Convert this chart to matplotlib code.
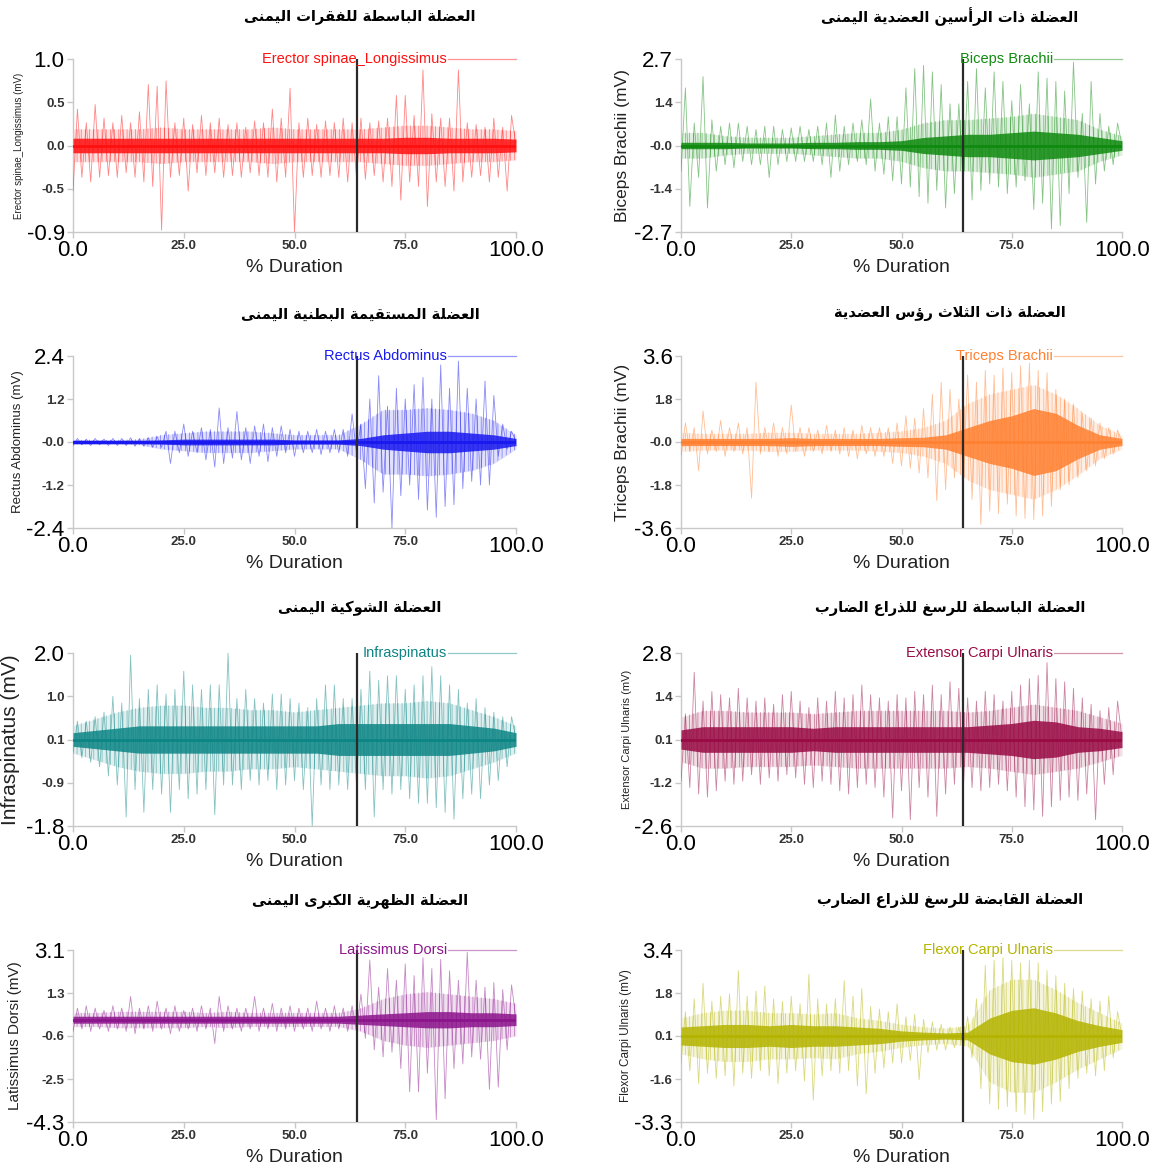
import numpy as np
import matplotlib
matplotlib.use("Agg")
import matplotlib.pyplot as plt

# ---------------- data ----------------
MUSCLES = ["Erector spinae_Longissimus", "Biceps Brachii", "Rectus Abdominus", "Triceps Brachii",
           "Infraspinatus", "Extensor Carpi Ulnaris", "Latissimus Dorsi", "Flexor Carpi Ulnaris"]
TITLES = ["العضلة الباسطة للفقرات اليمنى", "العضلة ذات الرأسين العضدية اليمنى",
          "العضلة المستقيمة البطنية اليمنى", "العضلة ذات الثلاث رؤس العضدية",
          "العضلة الشوكية اليمنى", "العضلة الباسطة للرسغ للذراع الضارب",
          "العضلة الظهرية الكبرى اليمنى", "العضلة القابضة للرسغ للذراع الضارب"]
YLABELS = ["Erector spinae_Longissimus (mV)", "Biceps Brachii (mV)", "Rectus Abdominus (mV)",
           "Triceps Brachii (mV)", "Infraspinatus (mV)", "Extensor Carpi Ulnaris (mV)",
           "Latissimus Dorsi (mV)", "Flexor Carpi Ulnaris (mV)"]
YLIMS = [(-0.9, 1.0), (-2.7, 2.7), (-2.4, 2.4), (-3.6, 3.6),
         (-1.8, 2.0), (-2.6, 2.8), (-4.3, 3.1), (-3.3, 3.4)]
YTICKLABELS = [["-0.9", "-0.5", "0.0", "0.5", "1.0"],
               ["-2.7", "-1.4", "-0.0", "1.4", "2.7"],
               ["-2.4", "-1.2", "-0.0", "1.2", "2.4"],
               ["-3.6", "-1.8", "-0.0", "1.8", "3.6"],
               ["-1.8", "-0.9", "0.1", "1.0", "2.0"],
               ["-2.6", "-1.2", "0.1", "1.4", "2.8"],
               ["-4.3", "-2.5", "-0.6", "1.3", "3.1"],
               ["-3.3", "-1.6", "0.1", "1.8", "3.4"]]
XTICKLABELS = ["0.0", "25.0", "50.0", "75.0", "100.0"]
XTICKS = [0, 25, 50, 75, 100]
BASELINES = [0.05, 0.0, 0.0, 0.0, 0.1, 0.1, 0.1, 0.05]
EVENT_X = 64.0  # % duration of the vertical marker

# positive peaks at 1,3,...,99 %  / negative peaks at 0,2,...,98 %
ERECTOR_UP = [0.45, 0.30, 0.50, 0.35, 0.30, 0.38, 0.30, 0.42, 0.72, 0.70, 0.76, 0.30, 0.35, 0.28, 0.38,
              0.30, 0.35, 0.28, 0.30, 0.25, 0.32, 0.30, 0.45, 0.35, 0.68, 0.30, 0.35, 0.28, 0.32, 0.30,
              0.35, 0.30, 0.35, 0.30, 0.32, 0.35, 0.60, 0.60, 0.38, 0.88, 0.40, 0.35, 0.35, 0.88, 0.30,
              0.28, 0.25, 0.35, 0.25, 0.38]
ERECTOR_DN = [-0.45, -0.30, -0.35, -0.30, -0.28, -0.30, -0.25, -0.30, -0.35, -0.40, -0.88, -0.30, -0.28,
              -0.45, -0.25, -0.28, -0.25, -0.30, -0.28, -0.30, -0.25, -0.28, -0.30, -0.35, -0.30, -0.90,
              -0.30, -0.28, -0.30, -0.28, -0.30, -0.35, -0.30, -0.32, -0.28, -0.35, -0.40, -0.55, -0.35,
              -0.40, -0.62, -0.35, -0.40, -0.45, -0.35, -0.30, -0.28, -0.35, -0.30, -0.45]
BICEPS_UP = [1.80, 0.70, 2.15, 0.80, 0.60, 0.70, 0.70, 0.60, 0.50, 0.60, 0.60, 0.50, 0.55, 0.60, 0.50,
             0.60, 0.70, 0.95, 0.60, 0.70, 0.80, 1.45, 0.70, 0.90, 0.90, 1.80, 2.40, 2.50, 2.30, 1.90,
             1.30, 1.30, 2.00, 2.40, 1.80, 2.30, 2.00, 1.40, 1.90, 1.30, 2.30, 2.10, 2.00, 1.70, 2.60,
             1.00, 2.00, 1.00, 0.60, 0.70]
BICEPS_DN = [-0.80, -1.90, -1.00, -1.95, -0.80, -0.60, -0.70, -0.50, -0.60, -0.60, -1.00, -0.60, -0.50,
             -0.50, -0.50, -0.50, -0.60, -1.00, -0.80, -0.60, -0.50, -0.60, -0.80, -0.90, -1.10, -1.20,
             -1.30, -1.60, -1.80, -1.40, -1.95, -1.50, -1.20, -1.70, -1.40, -1.20, -1.30, -1.50, -1.30,
             -1.10, -2.00, -1.80, -2.60, -2.50, -1.50, -1.00, -2.40, -1.20, -0.80, -0.60]
RECTUS_UP = [0.10, 0.08, 0.10, 0.08, 0.10, 0.10, 0.12, 0.10, 0.12, 0.15, 0.30, 0.30, 0.50, 0.30, 0.40,
             0.35, 0.95, 0.40, 0.85, 0.40, 0.45, 0.50, 0.40, 0.45, 0.35, 0.30, 0.30, 0.35, 0.30, 0.35,
             0.35, 0.78, 0.50, 1.20, 1.85, 1.00, 1.50, 1.20, 1.60, 1.80, 1.20, 2.15, 1.50, 2.26, 1.50,
             1.20, 1.70, 1.30, 0.50, 0.30]
RECTUS_DN = [-0.10, -0.08, -0.10, -0.08, -0.10, -0.10, -0.10, -0.12, -0.12, -0.15, -0.15, -0.60, -0.30,
             -0.40, -0.30, -0.50, -0.70, -0.60, -0.45, -0.50, -0.60, -0.40, -0.55, -0.40, -0.30, -0.40,
             -0.30, -0.30, -0.35, -0.30, -0.30, -0.40, -0.30, -1.30, -1.70, -1.40, -2.40, -1.50, -1.20,
             -1.60, -1.90, -2.10, -1.80, -1.75, -1.30, -1.10, -1.20, -1.20, -0.40, -0.20]
TRICEPS_UP = [0.80, 0.60, 1.30, 0.50, 0.90, 0.60, 0.80, 0.60, 2.50, 0.60, 0.80, 0.60, 1.55, 0.60, 0.60,
              0.50, 0.70, 0.50, 0.60, 0.50, 0.70, 0.60, 0.60, 0.60, 0.80, 1.10, 1.00, 1.40, 2.00, 2.50,
              2.20, 1.80, 2.80, 2.50, 3.00, 2.80, 3.10, 2.90, 3.20, 3.30, 3.00, 2.90, 2.20, 1.80, 1.60,
              1.20, 1.00, 0.80, 0.60, 0.50]
TRICEPS_DN = [-0.60, -0.40, -1.20, -0.50, -0.40, -0.60, -0.40, -0.50, -2.35, -0.50, -0.40, -0.60, -0.50,
              -0.40, -0.60, -0.40, -0.50, -0.40, -0.50, -0.60, -0.70, -0.50, -0.60, -0.60, -0.90, -1.00,
              -1.10, -1.30, -1.50, -2.45, -2.00, -1.50, -1.40, -2.40, -3.45, -2.90, -3.00, -2.60, -3.10,
              -3.20, -3.25, -3.10, -2.70, -2.00, -1.80, -1.50, -1.20, -1.00, -0.70, -0.50]
INFRA_UP = [0.50, 0.50, 0.60, 0.70, 1.05, 0.90, 1.95, 1.00, 1.20, 1.30, 1.10, 1.20, 1.60, 1.30, 1.20,
            1.30, 1.30, 2.00, 1.00, 1.20, 1.00, 0.90, 1.10, 1.10, 1.00, 0.90, 0.80, 1.00, 1.30, 1.30,
            1.00, 1.00, 1.20, 1.60, 1.40, 1.50, 1.50, 1.20, 1.30, 1.50, 1.70, 1.50, 1.30, 1.20, 0.90,
            1.00, 0.80, 0.70, 0.60, 0.60]
INFRA_DN = [-0.20, -0.30, -0.40, -0.50, -0.70, -0.90, -1.60, -1.00, -1.50, -1.00, -1.10, -1.50, -1.00,
            -1.20, -1.10, -1.00, -1.55, -0.90, -0.90, -1.00, -0.80, -0.90, -0.80, -1.00, -0.90, -0.80,
            -1.00, -1.80, -0.90, -1.00, -0.90, -1.00, -0.90, -1.00, -1.60, -1.00, -1.10, -1.00, -1.20,
            -1.30, -1.30, -1.40, -1.50, -1.65, -1.20, -1.10, -1.20, -0.90, -0.80, -0.50]
EXTENSOR_UP = [0.90, 2.20, 1.30, 1.60, 1.50, 1.40, 1.70, 1.40, 1.30, 1.40, 1.20, 1.50, 1.60, 1.30, 1.10,
               1.40, 1.30, 1.60, 1.40, 1.50, 1.80, 1.50, 1.40, 1.30, 1.50, 1.40, 1.60, 1.50, 1.80, 1.50,
               1.90, 1.70, 1.40, 1.30, 1.60, 1.50, 1.30, 1.60, 1.80, 2.00, 2.10, 2.50, 2.00, 1.90, 1.70,
               1.40, 1.20, 1.00, 1.10, 1.30]
EXTENSOR_DN = [-1.20, -1.40, -1.60, -1.70, -1.50, -1.20, -1.30, -1.20, -1.00, -1.30, -1.10, -1.20, -1.00,
               -1.10, -1.30, -1.40, -1.20, -1.30, -1.50, -1.60, -1.40, -1.30, -1.40, -1.70, -2.35, -1.50,
               -2.40, -1.40, -1.70, -2.30, -1.60, -1.30, -1.50, -1.40, -1.50, -1.40, -1.30, -1.50, -1.70,
               -2.00, -2.10, -2.30, -2.00, -1.80, -1.70, -1.80, -1.60, -2.40, -1.30, -1.00]
LATISSIMUS_UP = [0.60, 0.70, 0.60, 0.50, 0.70, 0.60, 1.10, 0.60, 0.70, 0.90, 0.60, 0.70, 0.50, 0.60, 0.70,
                 0.60, 1.10, 0.70, 0.60, 0.60, 1.10, 0.60, 0.80, 0.60, 0.70, 0.60, 0.60, 0.90, 0.60, 0.70,
                 0.60, 0.70, 1.20, 2.67, 1.50, 2.30, 1.80, 2.50, 2.00, 2.77, 2.30, 2.70, 2.20, 1.80, 3.00,
                 1.80, 1.50, 1.70, 1.40, 1.60]
LATISSIMUS_DN = [-0.40, -0.30, -0.40, -0.30, -0.40, -0.30, -0.40, -0.50, -0.30, -0.40, -0.30, -0.50, -0.40,
                 -0.30, -0.40, -0.30, -0.92, -0.40, -0.30, -0.40, -0.30, -0.40, -0.30, -0.40, -0.30, -0.40,
                 -0.30, -0.40, -0.30, -0.40, -0.30, -0.40, -0.40, -0.70, -1.20, -1.50, -1.30, -2.00, -3.00,
                 -3.00, -2.20, -4.20, -3.30, -2.00, -1.80, -1.50, -1.60, -2.90, -2.80, -1.20]
FLEXOR_UP = [1.00, 1.50, 2.10, 1.40, 1.60, 1.70, 2.60, 1.60, 1.80, 2.00, 1.50, 1.40, 1.60, 1.30, 2.45,
             1.50, 1.30, 1.50, 2.20, 1.60, 1.90, 1.20, 1.10, 1.00, 1.30, 0.80, 0.90, 0.70, 0.60, 0.50,
             0.40, 0.40, 0.80, 1.50, 2.80, 3.00, 3.10, 3.00, 2.90, 3.00, 2.90, 2.60, 2.40, 2.10, 1.90,
             1.80, 1.50, 1.40, 1.60, 1.00]
FLEXOR_DN = [-1.00, -1.30, -1.80, -1.40, -1.60, -1.50, -1.90, -1.40, -1.60, -1.30, -1.50, -1.80, -1.40,
             -1.30, -1.70, -2.45, -1.50, -1.30, -1.40, -1.30, -1.90, -2.20, -1.40, -1.20, -1.00, -1.00,
             -0.90, -1.65, -0.60, -0.50, -0.50, -0.40, -0.40, -0.80, -2.00, -2.60, -2.80, -2.70, -2.90,
             -3.00, -3.20, -2.90, -2.60, -2.50, -2.00, -1.60, -1.40, -1.50, -1.30, -0.80]

# half-width of the dense core band / the semi-dense band at 0,5,...,100 %
ERECTOR_CORE = [0.08, 0.08, 0.08, 0.08, 0.08, 0.08, 0.08, 0.08, 0.08, 0.08, 0.08, 0.08, 0.08, 0.08, 0.08,
                0.09, 0.09, 0.08, 0.08, 0.08, 0.07]
ERECTOR_MID = [0.18, 0.18, 0.18, 0.18, 0.2, 0.18, 0.18, 0.18, 0.18, 0.2, 0.18, 0.18, 0.18, 0.18, 0.2,
               0.22, 0.22, 0.2, 0.18, 0.18, 0.16]
BICEPS_CORE = [0.1, 0.1, 0.1, 0.08, 0.08, 0.08, 0.1, 0.1, 0.12, 0.12, 0.15, 0.25, 0.3, 0.35, 0.35, 0.4,
               0.45, 0.4, 0.35, 0.25, 0.15]
BICEPS_MID = [0.4, 0.4, 0.3, 0.25, 0.25, 0.25, 0.3, 0.35, 0.4, 0.4, 0.5, 0.7, 0.8, 0.8, 0.85, 0.9, 1.0,
              0.9, 0.8, 0.5, 0.3]
RECTUS_CORE = [0.05, 0.05, 0.05, 0.05, 0.06, 0.08, 0.08, 0.08, 0.08, 0.08, 0.06, 0.06, 0.06, 0.1, 0.2,
               0.25, 0.3, 0.3, 0.25, 0.2, 0.1]
RECTUS_MID = [0.06, 0.06, 0.06, 0.08, 0.2, 0.25, 0.3, 0.3, 0.3, 0.25, 0.2, 0.2, 0.2, 0.5, 0.9, 0.9, 0.95,
              0.9, 0.8, 0.6, 0.2]
TRICEPS_CORE = [0.15, 0.15, 0.15, 0.15, 0.15, 0.18, 0.15, 0.15, 0.15, 0.15, 0.18, 0.2, 0.3, 0.6, 0.9, 1.1,
                1.4, 1.2, 0.7, 0.3, 0.15]
TRICEPS_MID = [0.4, 0.35, 0.35, 0.35, 0.4, 0.4, 0.35, 0.35, 0.35, 0.4, 0.45, 0.6, 0.9, 1.6, 2.0, 2.2, 2.4,
               2.0, 1.4, 0.7, 0.3]
INFRA_CORE = [0.15, 0.2, 0.25, 0.3, 0.3, 0.3, 0.3, 0.3, 0.3, 0.3, 0.3, 0.3, 0.35, 0.35, 0.35, 0.35, 0.35,
              0.35, 0.3, 0.25, 0.15]
INFRA_MID = [0.3, 0.45, 0.6, 0.7, 0.75, 0.75, 0.7, 0.7, 0.65, 0.65, 0.6, 0.65, 0.7, 0.75, 0.8, 0.8, 0.85,
             0.8, 0.65, 0.5, 0.3]
EXTENSOR_CORE = [0.3, 0.4, 0.4, 0.4, 0.4, 0.4, 0.35, 0.4, 0.4, 0.4, 0.4, 0.4, 0.4, 0.4, 0.45, 0.5, 0.6,
                 0.55, 0.4, 0.35, 0.25]
EXTENSOR_MID = [0.7, 0.9, 0.9, 0.85, 0.85, 0.85, 0.8, 0.85, 0.9, 0.9, 0.9, 0.9, 0.9, 0.85, 0.9, 1.0, 1.1,
                1.0, 0.9, 0.7, 0.5]
LATISSIMUS_CORE = [0.15, 0.15, 0.15, 0.15, 0.15, 0.15, 0.15, 0.15, 0.15, 0.15, 0.15, 0.15, 0.15, 0.2, 0.25,
                   0.3, 0.35, 0.35, 0.3, 0.3, 0.25]
LATISSIMUS_MID = [0.3, 0.3, 0.35, 0.35, 0.35, 0.35, 0.3, 0.35, 0.3, 0.3, 0.3, 0.3, 0.3, 0.5, 0.9, 1.1,
                  1.2, 1.1, 1.0, 0.9, 0.7]
FLEXOR_CORE = [0.35, 0.4, 0.45, 0.45, 0.4, 0.45, 0.4, 0.4, 0.35, 0.3, 0.2, 0.15, 0.12, 0.15, 0.7, 1.0,
               1.1, 0.9, 0.6, 0.4, 0.25]
FLEXOR_MID = [0.7, 0.9, 1.0, 1.0, 0.9, 0.9, 0.85, 0.9, 0.7, 0.6, 0.45, 0.35, 0.3, 0.4, 1.8, 2.2, 2.2, 1.8,
              1.3, 0.9, 0.5]

UPS = [ERECTOR_UP, BICEPS_UP, RECTUS_UP, TRICEPS_UP, INFRA_UP, EXTENSOR_UP, LATISSIMUS_UP, FLEXOR_UP]
DNS = [ERECTOR_DN, BICEPS_DN, RECTUS_DN, TRICEPS_DN, INFRA_DN, EXTENSOR_DN, LATISSIMUS_DN, FLEXOR_DN]
CORES = [ERECTOR_CORE, BICEPS_CORE, RECTUS_CORE, TRICEPS_CORE, INFRA_CORE, EXTENSOR_CORE,
         LATISSIMUS_CORE, FLEXOR_CORE]
MIDS = [ERECTOR_MID, BICEPS_MID, RECTUS_MID, TRICEPS_MID, INFRA_MID, EXTENSOR_MID, LATISSIMUS_MID,
        FLEXOR_MID]

# ---------------- styles ----------------
COLORS = ["#ff1010", "#0f8a0f", "#1818f0", "#ff8030", "#0d8585", "#990b45", "#8c148c", "#b4b400"]
YLABEL_SIZES = [7, 12.5, 9.5, 12.5, 15, 8, 11, 8.5]
YLABEL_X = [-0.11, -0.115, -0.11, -0.115, -0.12, -0.11, -0.115, -0.11]

# ---------------- Arabic shaping (presentation forms, RTL) ----------------
FORMS = {
    'ا': (0xFE8D, 0xFE8E, None, None), 'أ': (0xFE83, 0xFE84, None, None),
    'إ': (0xFE87, 0xFE88, None, None), 'آ': (0xFE81, 0xFE82, None, None),
    'ب': (0xFE8F, 0xFE90, 0xFE91, 0xFE92), 'ة': (0xFE93, 0xFE94, None, None),
    'ت': (0xFE95, 0xFE96, 0xFE97, 0xFE98), 'ث': (0xFE99, 0xFE9A, 0xFE9B, 0xFE9C),
    'ج': (0xFE9D, 0xFE9E, 0xFE9F, 0xFEA0), 'ح': (0xFEA1, 0xFEA2, 0xFEA3, 0xFEA4),
    'خ': (0xFEA5, 0xFEA6, 0xFEA7, 0xFEA8), 'د': (0xFEA9, 0xFEAA, None, None),
    'ذ': (0xFEAB, 0xFEAC, None, None), 'ر': (0xFEAD, 0xFEAE, None, None),
    'ز': (0xFEAF, 0xFEB0, None, None), 'س': (0xFEB1, 0xFEB2, 0xFEB3, 0xFEB4),
    'ش': (0xFEB5, 0xFEB6, 0xFEB7, 0xFEB8), 'ص': (0xFEB9, 0xFEBA, 0xFEBB, 0xFEBC),
    'ض': (0xFEBD, 0xFEBE, 0xFEBF, 0xFEC0), 'ط': (0xFEC1, 0xFEC2, 0xFEC3, 0xFEC4),
    'ظ': (0xFEC5, 0xFEC6, 0xFEC7, 0xFEC8), 'ع': (0xFEC9, 0xFECA, 0xFECB, 0xFECC),
    'غ': (0xFECD, 0xFECE, 0xFECF, 0xFED0), 'ف': (0xFED1, 0xFED2, 0xFED3, 0xFED4),
    'ق': (0xFED5, 0xFED6, 0xFED7, 0xFED8), 'ك': (0xFED9, 0xFEDA, 0xFEDB, 0xFEDC),
    'ل': (0xFEDD, 0xFEDE, 0xFEDF, 0xFEE0), 'م': (0xFEE1, 0xFEE2, 0xFEE3, 0xFEE4),
    'ن': (0xFEE5, 0xFEE6, 0xFEE7, 0xFEE8), 'ه': (0xFEE9, 0xFEEA, 0xFEEB, 0xFEEC),
    'و': (0xFEED, 0xFEEE, None, None), 'ى': (0xFEEF, 0xFEF0, None, None),
    'ي': (0xFEF1, 0xFEF2, 0xFEF3, 0xFEF4), 'ؤ': (0xFE85, 0xFE86, None, None),
    'ئ': (0xFE89, 0xFE8A, 0xFE8B, 0xFE8C),
}
LAM_ALEF = {'ا': (0xFEFB, 0xFEFC), 'أ': (0xFEF7, 0xFEF8), 'إ': (0xFEF9, 0xFEFA), 'آ': (0xFEF5, 0xFEF6)}


def shape_arabic(text):
    toks = []
    i = 0
    while i < len(text):
        c = text[i]
        if c == 'ل' and i + 1 < len(text) and text[i + 1] in LAM_ALEF:
            toks.append(('LA', text[i + 1]))
            i += 2
        else:
            toks.append(c)
            i += 1
    out = []
    for k, t in enumerate(toks):
        prev = toks[k - 1] if k > 0 else None
        nxt = toks[k + 1] if k + 1 < len(toks) else None
        prev_joins = (prev is not None and not isinstance(prev, tuple)
                      and prev in FORMS and FORMS[prev][2] is not None)
        if isinstance(t, tuple):
            iso, fin = LAM_ALEF[t[1]]
            out.append(chr(fin if prev_joins else iso))
            continue
        if t not in FORMS:
            out.append(t)
            continue
        iso, fin, ini, med = FORMS[t]
        nxt_ar = nxt is not None and (isinstance(nxt, tuple) or nxt in FORMS)
        join_next = ini is not None and nxt_ar
        if prev_joins and join_next:
            out.append(chr(med))
        elif prev_joins:
            out.append(chr(fin))
        elif join_next:
            out.append(chr(ini))
        else:
            out.append(chr(iso))
    return ''.join(reversed(out))


# ---------------- figure ----------------
plt.rcParams['font.family'] = ['Liberation Sans', 'DejaVu Sans']
plt.rcParams['hatch.linewidth'] = 0.6
fig = plt.figure(figsize=(11.54, 11.69), dpi=100)

W, H = 1154, 1169
col_left = [73, 681]
col_w = [443, 441]
row_top = [59, 356, 653, 950]
row_bot = [232, 528, 826, 1122]
title_y = [17, 314, 608, 901]
title_x = [360, 950]

for idx in range(8):
    r, c = divmod(idx, 2)
    ax = fig.add_axes([col_left[c] / W, 1 - row_bot[r] / H, col_w[c] / W, (row_bot[r] - row_top[r]) / H])
    color = COLORS[idx]
    base = BASELINES[idx]
    lo, hi = YLIMS[idx]

    xb = np.linspace(0, 100, len(CORES[idx]))
    mid = np.array(MIDS[idx])
    core = np.array(CORES[idx])
    # semi-dense band: light wash + vertical line texture
    ax.fill_between(xb, base - mid, base + mid, color=color, alpha=0.13, lw=0, zorder=2)
    ax.fill_between(xb, base - mid, base + mid, facecolor='none', edgecolor=color, hatch='||||',
                    alpha=0.45, lw=0, zorder=2)

    up = np.array(UPS[idx])
    dn = np.array(DNS[idx])
    x_up = np.linspace(1, 99, len(up))
    x_dn = np.linspace(0, 98, len(dn))
    xs = np.empty(len(up) + len(dn))
    ys = np.empty_like(xs)
    xs[0::2], ys[0::2] = x_dn, dn
    xs[1::2], ys[1::2] = x_up, up
    xs = np.concatenate([xs, [100]])
    ys = np.concatenate([ys, [base]])
    ax.plot(xs, ys, color=color, lw=0.6, alpha=0.5, zorder=3)

    ax.fill_between(xb, base - core, base + core, color=color, alpha=0.85, lw=0, zorder=4)
    ax.plot([0, 100], [base, base], color=color, lw=2.0, zorder=5)

    ax.axvline(EVENT_X, color="#2a2a2a", lw=1.6, zorder=6)

    # legend-like label at the top
    ax.text(84.4, hi, MUSCLES[idx], ha='right', va='center', color=color, fontsize=10.5,
            zorder=7, clip_on=False)
    ax.plot([84.6, 100], [hi, hi], color=color, lw=0.9, alpha=0.45, zorder=7, clip_on=False)

    ax.set_xlim(0, 100)
    ax.set_ylim(lo, hi)
    ax.set_yticks(np.linspace(lo, hi, 5))
    ax.set_yticklabels(YTICKLABELS[idx])
    ax.set_xticks(XTICKS)
    ax.set_xticklabels(XTICKLABELS)

    for s in ('top', 'right'):
        ax.spines[s].set_visible(False)
    for s in ('left', 'bottom'):
        ax.spines[s].set_color('#c8c8c8')
        ax.spines[s].set_linewidth(1.0)
    ax.tick_params(axis='both', colors='#c8c8c8', length=4, width=1, labelcolor='black', pad=2)
    for labs in (ax.get_yticklabels(), ax.get_xticklabels()):
        for i_t, lab in enumerate(labs):
            if i_t in (0, 4):
                lab.set_fontsize(16)
                lab.set_color('black')
            else:
                lab.set_fontsize(9.5)
                lab.set_fontweight('bold')
                lab.set_color('#333333')

    ax.set_xlabel("% Duration", fontsize=14, color='#222222')
    ax.xaxis.set_label_coords(0.5, -0.155)
    ax.set_ylabel(YLABELS[idx], fontsize=YLABEL_SIZES[idx], color='#222222')
    ax.yaxis.set_label_coords(YLABEL_X[idx], 0.5)

    fig.text(title_x[c] / W, 1 - title_y[r] / H, shape_arabic(TITLES[idx]), ha='center', va='center',
             fontsize=10.5, fontweight='bold', family=['DejaVu Sans'])

fig.savefig("out.png", dpi=100, facecolor='white')
